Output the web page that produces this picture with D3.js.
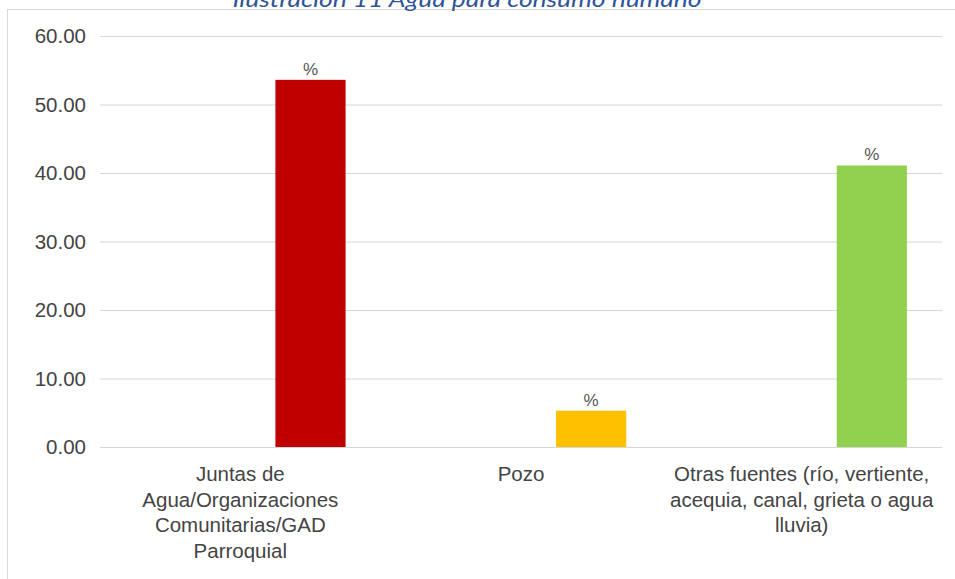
<!DOCTYPE html>
<html>
<head>
<meta charset="utf-8">
<script src="https://cdn.jsdelivr.net/npm/d3@7"></script>
<style>
  html, body { margin: 0; padding: 0; background: #fff; }
  svg { display: block; }
</style>
</head>
<body>
<svg id="chart" width="955" height="579"></svg>
<script>
const title = "Ilustración 11 Agua para consumo humano";
const categories = ["Juntas", "Pozo", "Otras"];
const categoryLabels = [
  ["Juntas de", "Agua/Organizaciones", "Comunitarias/GAD", "Parroquial"],
  ["Pozo"],
  ["Otras fuentes (río, vertiente,", "acequia, canal, grieta o agua", "lluvia)"]
];
const slots = ["s1", "s2", "pct"];
const values = [53.6, 5.3, 41.1];
const barLabels = ["%", "%", "%"];
const colors = ["#c00000", "#ffc000", "#92d050"];
const yTicks = [0, 10, 20, 30, 40, 50, 60];

const svg = d3.select("#chart");

// frame
svg.append("rect").attr("x", 7.5).attr("y", 9.5).attr("width", 960).attr("height", 580)
  .attr("fill", "#fff").attr("stroke", "#d9d9d9").attr("stroke-width", 1);

// title (cut off at top, as in the source)
svg.append("text").attr("x", 467).attr("y", 6.5).attr("text-anchor", "middle")
  .attr("font-family", "Lato, 'Open Sans', sans-serif").attr("font-style", "italic")
  .attr("font-size", 21).attr("fill", "#2f5597")
  .attr("textLength", 469).attr("lengthAdjust", "spacingAndGlyphs")
  .text(title);

const x0 = d3.scaleBand().domain(categories).range([100, 942]).padding(0);
const x1 = d3.scaleBand().domain(slots)
  .range([x0.bandwidth() * 0.125, x0.bandwidth() * 0.875]).padding(0);
const y = d3.scaleLinear().domain([0, 60]).range([447, 36]);

// gridlines + y labels
const yAxis = d3.axisLeft(y).tickValues(yTicks).tickFormat(d3.format(".2f"))
  .tickSize(-(942 - 100)).tickPadding(14);
const gy = svg.append("g").attr("transform", "translate(100,0)").call(yAxis);
gy.select(".domain").remove();
gy.selectAll(".tick line").attr("stroke", "#d6d6d6").attr("stroke-width", 1.2);
gy.selectAll(".tick text").attr("fill", "#444")
  .attr("font-family", "Arial, 'Liberation Sans', sans-serif").attr("font-size", 20.5);

// bars
svg.append("g").selectAll("rect").data(categories).join("rect")
  .attr("x", (d) => x0(d) + x1("pct"))
  .attr("width", x1.bandwidth())
  .attr("y", (d, i) => y(values[i]))
  .attr("height", (d, i) => y(0) - y(values[i]))
  .attr("fill", (d, i) => colors[i]);

// bar labels
svg.append("g").selectAll("text").data(categories).join("text")
  .attr("x", (d) => x0(d) + x1("pct") + x1.bandwidth() / 2)
  .attr("y", (d, i) => y(values[i]) - 5)
  .attr("text-anchor", "middle")
  .attr("font-family", "Arial, 'Liberation Sans', sans-serif").attr("font-size", 17)
  .attr("fill", "#555")
  .text((d, i) => barLabels[i]);

// category labels
const cg = svg.append("g");
categories.forEach((c, i) => {
  const t = cg.append("text")
    .attr("x", x0(c) + x0.bandwidth() / 2)
    .attr("y", 481)
    .attr("text-anchor", "middle")
    .attr("font-family", "Arial, 'Liberation Sans', sans-serif").attr("font-size", 20.5)
    .attr("fill", "#444");
  categoryLabels[i].forEach((line, j) => {
    t.append("tspan").attr("x", x0(c) + x0.bandwidth() / 2)
      .attr("dy", j === 0 ? 0 : 25.5).text(line);
  });
});
</script>
</body>
</html>
